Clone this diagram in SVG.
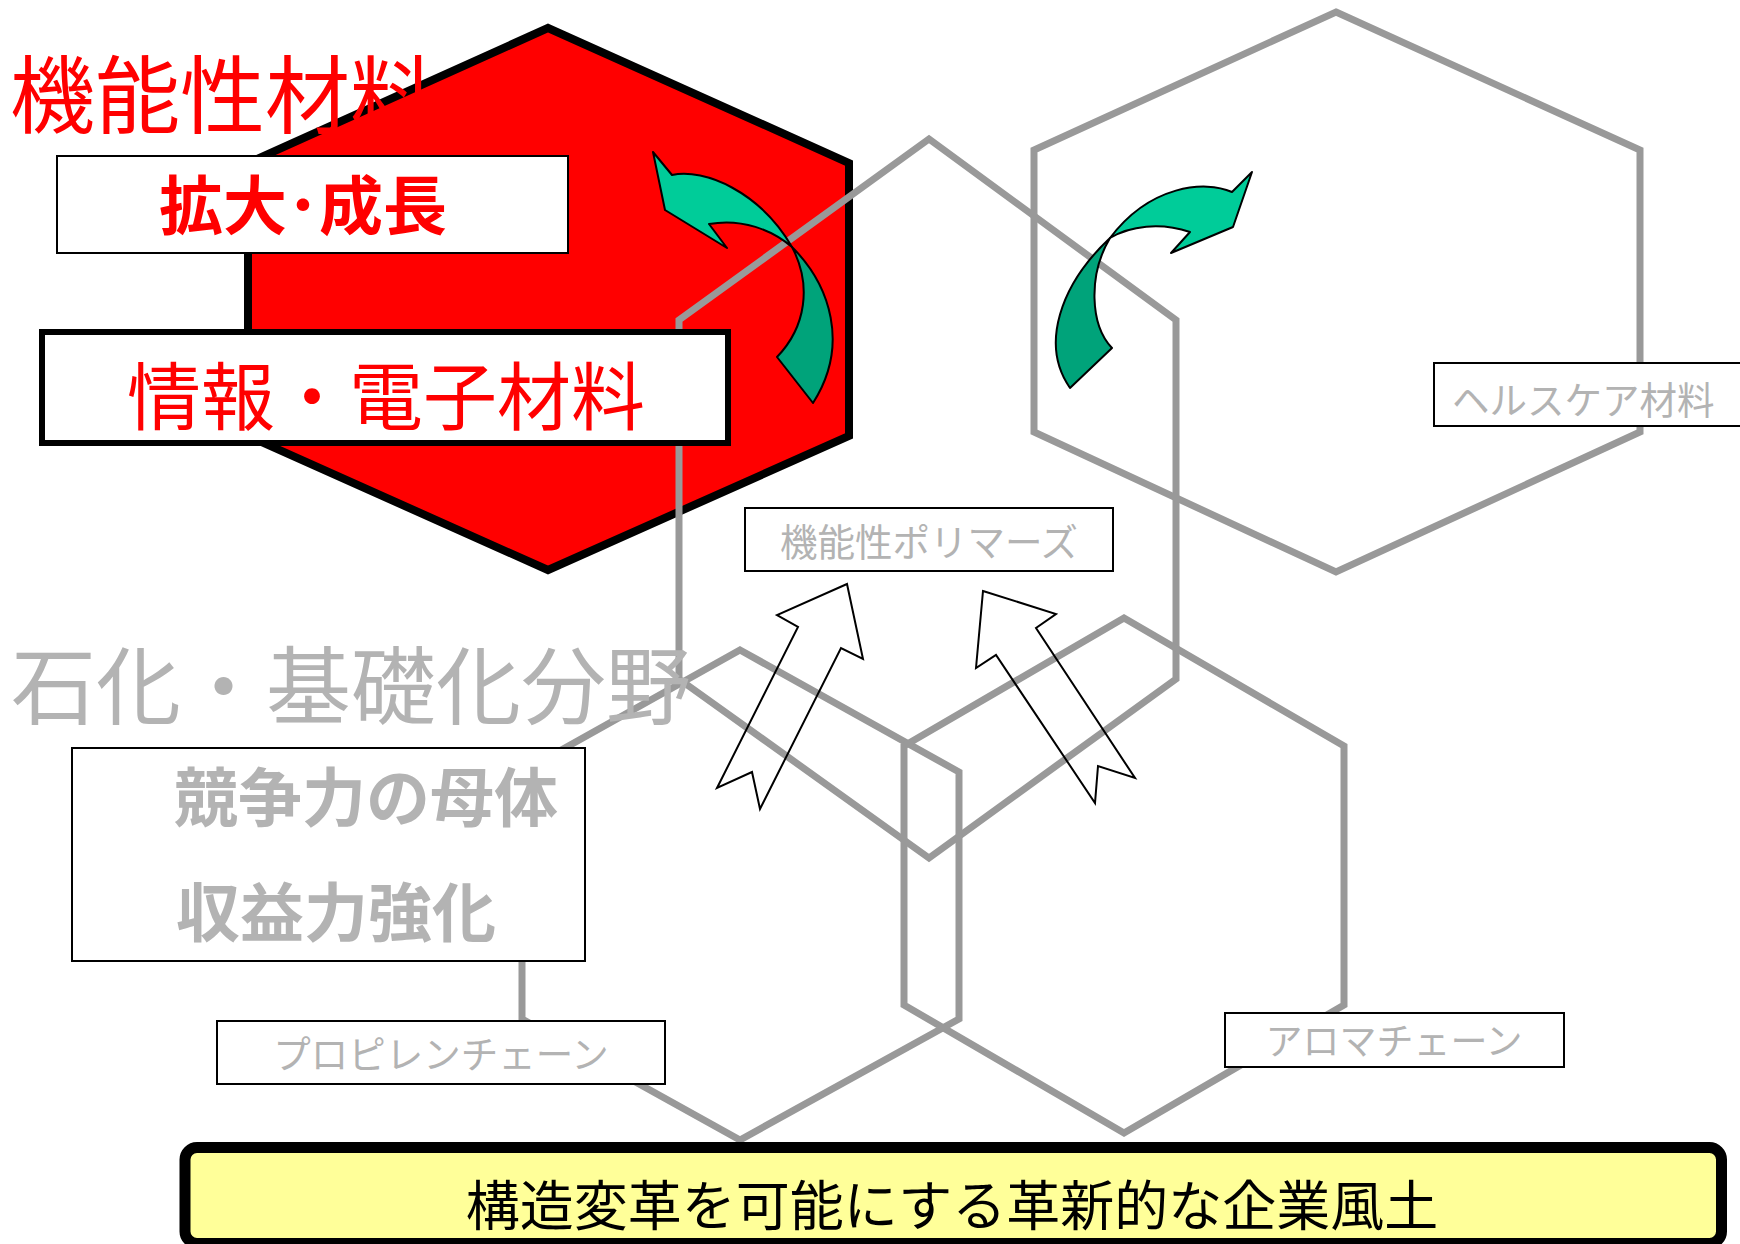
<svg xmlns="http://www.w3.org/2000/svg" width="1740" height="1244" viewBox="0 0 1740 1244">
<style>
text{font-family:"Noto Sans CJK JP","Noto Sans CJK SC",sans-serif;}
.hexg{fill:none;stroke:#999999;stroke-width:7;}
.box{fill:#ffffff;stroke:#000000;stroke-width:2;}
.gray{fill:#b3b3b3;}
.red{fill:#ff0000;}
.hollow{fill:none;stroke:#000000;stroke-width:2;stroke-linejoin:miter;}
.gl{fill:#00cc99;stroke:#000000;stroke-width:2;stroke-linejoin:round;}
.gd{fill:#00a37a;stroke:#000000;stroke-width:2;stroke-linejoin:round;}
</style>
<rect width="1740" height="1244" fill="#ffffff"/>
<g id="hex-info">
<polygon points="548,28 849,163 849,436 548,570 248,436 248,163" fill="#ff0000" stroke="#000000" stroke-width="8"/>
</g>
<g id="hex-polymers"><polygon class="hexg" points="929,139 1176,320 1176,679 929,858 679,679 679,320"/></g>
<g id="hex-health"><polygon class="hexg" points="1336,12 1640,150 1640,432 1336,572 1034,432 1034,150"/></g>
<g id="hex-propylene"><polygon class="hexg" points="740,650 959,772 959,1019 740,1140 522,1019 522,772"/></g>
<g id="hex-aroma"><polygon class="hexg" points="1124,618 1344,746 1344,1005 1124,1133 904,1005 904,746"/></g>
<g id="title-functional"><text class="red" x="10" y="127" font-size="85">機能性材料／</text></g>
<g id="box-growth">
<rect class="box" x="57" y="156" width="511" height="97"/>
<text class="red" x="303" y="229" font-size="64" font-weight="700" text-anchor="middle">拡大･成長</text>
</g>
<g id="box-electronic">
<rect x="42" y="332" width="686" height="111" fill="#ffffff" stroke="#000000" stroke-width="6"/>
<text class="red" x="386" y="424" font-size="74" text-anchor="middle">情報・電子材料</text>
</g>
<g id="title-petro"><text class="gray" x="11" y="718" font-size="85">石化・基礎化分野</text></g>
<g id="box-competitive">
<rect class="box" x="72" y="748" width="513" height="213"/>
<text class="gray" x="174" y="821" font-size="64" font-weight="700">競争力の母体</text>
<text class="gray" x="176" y="936" font-size="64" font-weight="700">収益力強化</text>
</g>
<g id="box-polymers">
<rect class="box" x="745" y="508" width="368" height="63"/>
<text class="gray" x="929" y="556" font-size="37.5" text-anchor="middle">機能性ポリマーズ</text>
</g>
<g id="box-health">
<rect class="box" x="1434" y="363" width="320" height="63"/>
<text class="gray" x="1452" y="414" font-size="37.5">ヘルスケア材料</text>
</g>
<g id="box-propylene">
<rect class="box" x="217" y="1021" width="448" height="63"/>
<text class="gray" x="441" y="1068" font-size="37.5" text-anchor="middle">プロピレンチェーン</text>
</g>
<g id="box-aroma">
<rect class="box" x="1225" y="1013" width="339" height="54"/>
<text class="gray" x="1394" y="1055" font-size="37" text-anchor="middle">アロマチェーン</text>
</g>
<g id="connectors">
<path class="gl" d="M653,152 L672,175 C705,168 760,192 792,247 C772,230 742,218 709,224 L727,248 L665,210 Z"/>
<path class="gd" d="M792,247 C830,285 850,345 813,403 L777,357 C806,327 812,285 792,247 Z"/>
<path class="gl" d="M1252,172 L1232,192 C1205,180 1150,185 1110,238 C1130,226 1160,222 1190,232 L1171,253 L1233,227 Z"/>
<path class="gd" d="M1110,238 C1060,285 1040,345 1070,388 L1112,348 C1090,325 1088,275 1110,238 Z"/>
<polygon class="hollow" points="847,584 863,659 841,648 760,809 752,772 717,788 798,627 777,615"/>
<polygon class="hollow" points="983,591 1056,614 1036,628 1135,778 1098,766 1095,803 996,655 976,668"/>
</g>
<g id="banner">
<rect x="185" y="1147.5" width="1536.5" height="96" rx="12" fill="#ffff99" stroke="#000000" stroke-width="11"/>
<text x="952" y="1226" font-size="54" text-anchor="middle" fill="#000000">構造変革を可能にする革新的な企業風土</text>
</g>
</svg>
